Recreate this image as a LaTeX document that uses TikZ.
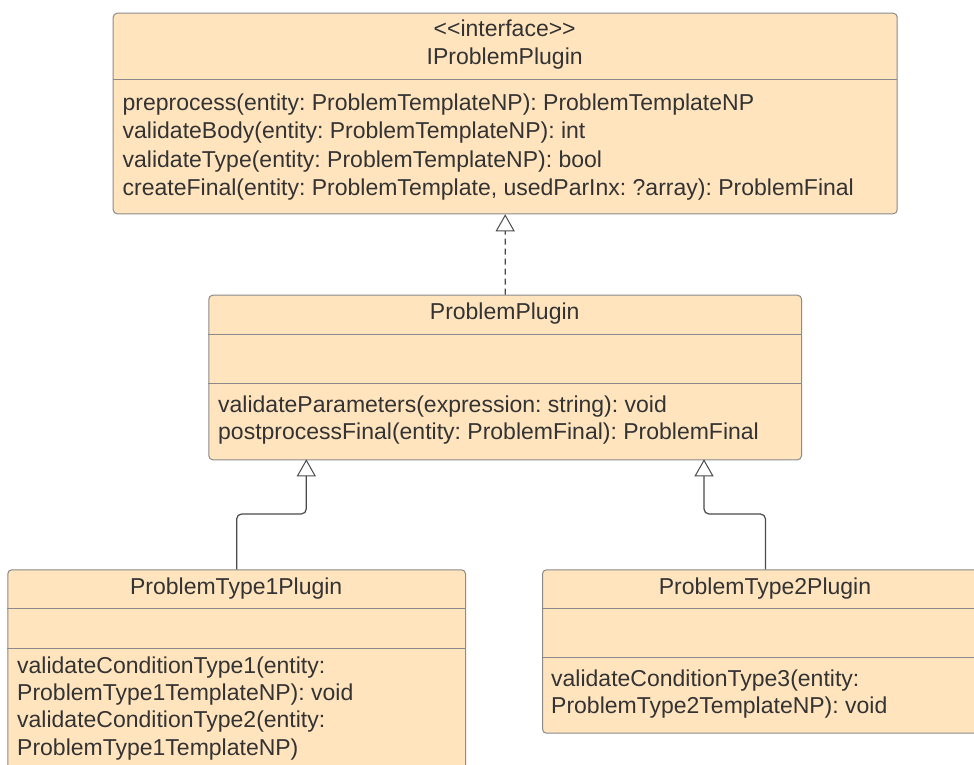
\documentclass[tikz,border=0pt]{standalone}
\usepackage{fontspec}
\setmainfont{Liberation Sans}
\usetikzlibrary{arrows.meta}
\definecolor{boxfill}{HTML}{FFE4BE}
\definecolor{boxline}{HTML}{8A8A8A}
\definecolor{txt}{HTML}{333333}
\definecolor{conn}{HTML}{4A4A4A}
\frenchspacing
\tikzset{
  classbox/.style={draw=boxline, fill=boxfill, rounded corners=4pt, line width=1pt, inner sep=0pt, anchor=north west},
  divline/.style={draw=boxline, line width=1pt},
  lbl/.style={text=txt, inner sep=0pt, font=\fontsize{23pt}{28pt}\selectfont},
  mline/.style={lbl, anchor=base west},
  tline/.style={lbl, anchor=base},
  gen/.style={draw=conn, line width=1.2pt, -{Triangle[length=17pt,width=19pt,fill=white,line width=1pt]}},
}
\begin{document}
\begin{tikzpicture}[x=1pt,y=-1pt]
\useasboundingbox (0,0) rectangle (974,765);
\clip (0,0) rectangle (974,765);

% IProblemPlugin
\node[classbox, minimum width=784pt, minimum height=200.6pt] (iface) at (112.7,12.7) {};
\draw[divline] (112.7,80) -- (896.7,80);
\node[tline] (iface-st) at (504.7,36.7) {<\kern0pt<interface>\kern0pt>};
\node[tline] (iface-t) at (504.7,65) {IProblemPlugin};
\node[mline] (iface-m1) at (122.5,111) {preprocess(entity: ProblemTemplateNP): ProblemTemplateNP};
\node[mline] (iface-m2) at (122.5,139) {validateBody(entity: ProblemTemplateNP): int};
\node[mline] (iface-m3) at (122.5,167) {validateType(entity: ProblemTemplateNP): bool};
\node[mline] (iface-m4) at (122.5,195) {createFinal(entity: ProblemTemplate, usedParInx: ?array): ProblemFinal};

% ProblemPlugin
\node[classbox, minimum width=592.7pt, minimum height=164.6pt] (pp) at (208.3,294.7) {};
\draw[divline] (208.3,334) -- (801,334);
\draw[divline] (208.3,383.3) -- (801,383.3);
\node[tline] (pp-t) at (504.7,319.5) {ProblemPlugin};
\node[mline] (pp-m1) at (218,412.5) {validateParameters(expression: string): void};
\node[mline] (pp-m2) at (218,439.5) {postprocessFinal(entity: ProblemFinal): ProblemFinal};

% ProblemType1Plugin
\node[classbox, minimum width=457.7pt, minimum height=240pt] (t1) at (7.3,569.3) {};
\draw[divline] (7.3,608.7) -- (465,608.7);
\draw[divline] (7.3,648.7) -- (465,648.7);
\node[tline] (t1-t) at (236.2,594) {ProblemType1Plugin};
\node[mline] (t1-m1) at (17,673) {validateConditionType1(entity:};
\node[mline] (t1-m2) at (17,700) {ProblemType1TemplateNP): void};
\node[mline] (t1-m3) at (17,727.5) {validateConditionType2(entity:};
\node[mline] (t1-m4) at (17,755) {ProblemType1TemplateNP)};

% ProblemType2Plugin
\node[classbox, minimum width=446pt, minimum height=163.4pt] (t2) at (542,569.3) {};
\draw[divline] (542,608.7) -- (988,608.7);
\draw[divline] (542,657.3) -- (988,657.3);
\node[tline] (t2-t) at (765,594) {ProblemType2Plugin};
\node[mline] (t2-m1) at (551,686) {validateConditionType3(entity:};
\node[mline] (t2-m2) at (551,713) {ProblemType2TemplateNP): void};

% connectors
\coordinate (pp-in1) at (306.3,459.3);
\coordinate (pp-in2) at (704,459.3);
\draw[gen, dash pattern=on 6pt off 4pt] (pp.north) -- (iface.south);
\draw[gen, rounded corners=5pt] (t1.north) -- ++(0,-55.3) -| (pp-in1);
\draw[gen, rounded corners=5pt] (t2.north) -- ++(0,-55.3) -| (pp-in2);
\end{tikzpicture}
\end{document}
